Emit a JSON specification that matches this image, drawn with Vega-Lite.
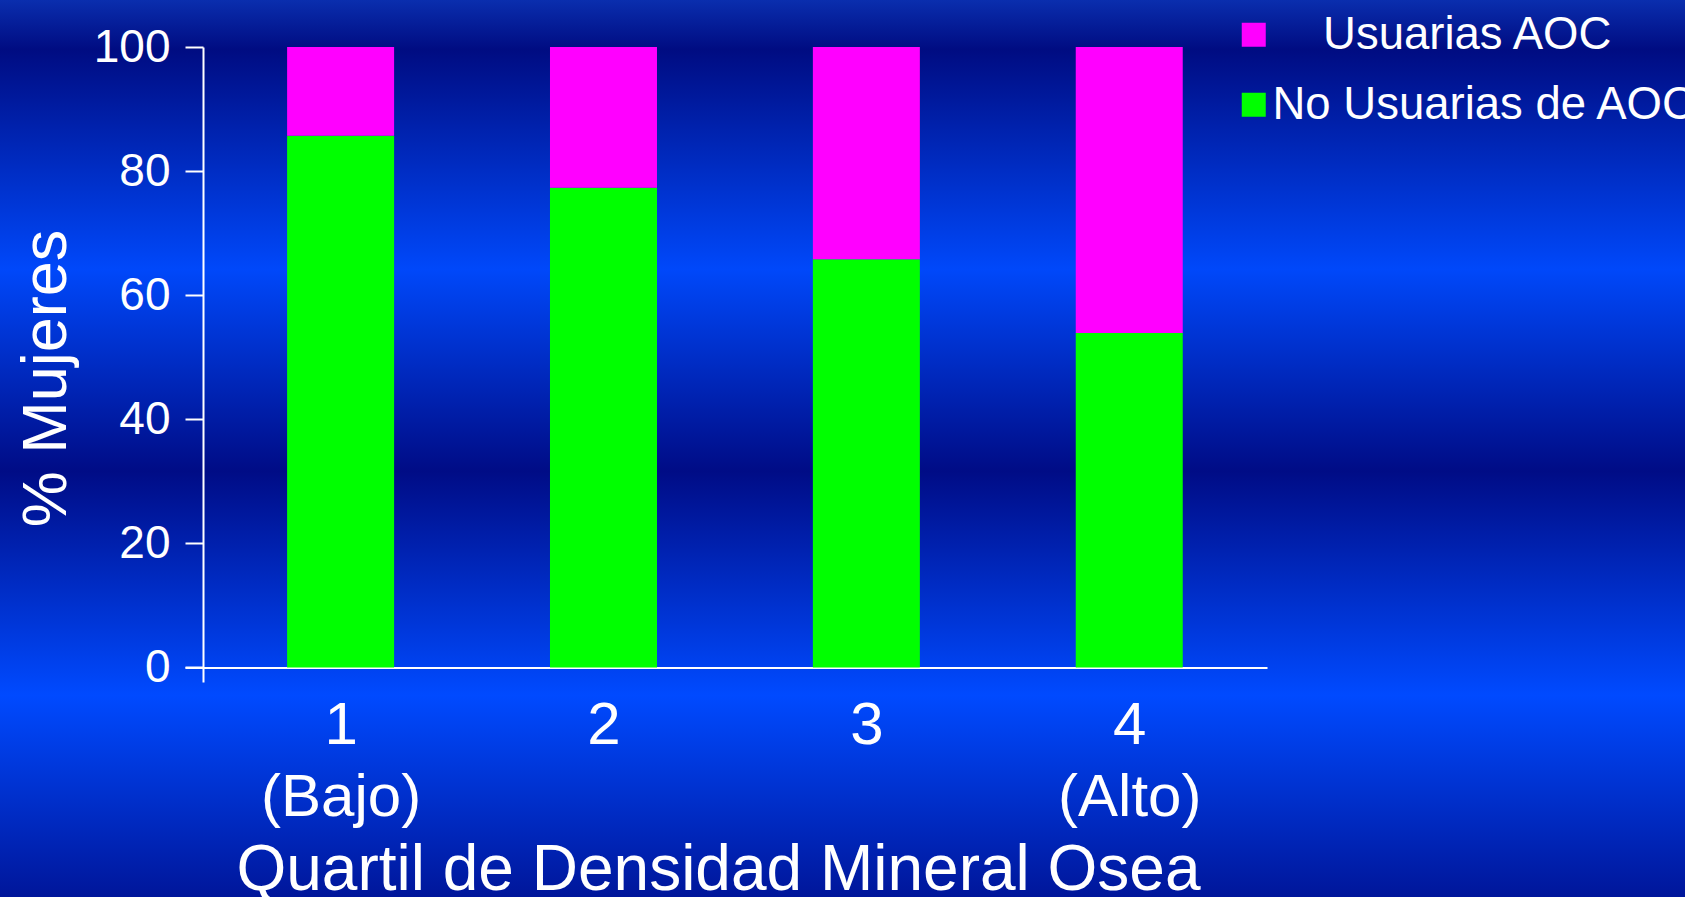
{
  "$schema": "https://vega.github.io/schema/vega-lite/v6.json",
  "width": 1685,
  "height": 897,
  "autosize": {"type": "none"},
  "padding": 0,
  "background": "#ffffff",
  "config": {
    "font": "Liberation Sans",
    "view": {
      "stroke": null,
      "fill": {
        "gradient": "linear",
        "x1": 0, "y1": 0, "x2": 0, "y2": 1,
        "stops": [
          {"offset": 0.0, "color": "#0a2eae"},
          {"offset": 0.055, "color": "#000c82"},
          {"offset": 0.30, "color": "#0048fa"},
          {"offset": 0.525, "color": "#000c86"},
          {"offset": 0.775, "color": "#004aff"},
          {"offset": 1.0, "color": "#00169a"}
        ]
      }
    }
  },
  "data": {
    "values": [
      {"cuartil": 1, "grupo": "No Usuarias de AOC", "pct": 85.7},
      {"cuartil": 1, "grupo": "Usuarias AOC", "pct": 14.3},
      {"cuartil": 2, "grupo": "No Usuarias de AOC", "pct": 77.3},
      {"cuartil": 2, "grupo": "Usuarias AOC", "pct": 22.7},
      {"cuartil": 3, "grupo": "No Usuarias de AOC", "pct": 65.8},
      {"cuartil": 3, "grupo": "Usuarias AOC", "pct": 34.2},
      {"cuartil": 4, "grupo": "No Usuarias de AOC", "pct": 53.9},
      {"cuartil": 4, "grupo": "Usuarias AOC", "pct": 46.1}
    ]
  },
  "mark": {"type": "bar", "width": 107},
  "encoding": {
    "x": {
      "field": "cuartil",
      "type": "quantitative",
      "scale": {"domain": [0.4271, 4.505], "range": [185, 1267], "nice": false, "zero": false},
      "axis": {
        "values": [1, 2, 3, 4],
        "offset": -229.5,
        "ticks": false,
        "grid": false,
        "domainColor": "#ffffff",
        "domainWidth": 2,
        "labelExpr": "datum.value == 1 ? ['1', '(Bajo)'] : datum.value == 4 ? ['4', '(Alto)'] : datum.label",
        "labelFontSize": 60,
        "labelLineHeight": 72,
        "labelBaseline": "alphabetic",
        "labelPadding": 76,
        "labelDx": -6,
        "labelColor": "#ffffff",
        "labelFlush": false,
        "labelOverlap": false,
        "labelFont": "Liberation Sans",
        "title": "Quartil de Densidad Mineral Osea",
        "titleFont": "Liberation Sans",
        "titleFontSize": 64,
        "titleFontWeight": "normal",
        "titleColor": "#ffffff",
        "titleX": 718,
        "titleY": 222,
        "titleAlign": "center",
        "titleBaseline": "alphabetic"
      }
    },
    "y": {
      "field": "pct",
      "type": "quantitative",
      "stack": "zero",
      "scale": {"domain": [-2.34, 100], "range": [682, 47], "nice": false, "zero": false},
      "axis": {
        "values": [0, 20, 40, 60, 80, 100],
        "offset": -203,
        "grid": false,
        "domainColor": "#ffffff",
        "domainWidth": 2,
        "tickColor": "#ffffff",
        "tickSize": 18,
        "tickWidth": 2,
        "labelFontSize": 46,
        "labelPadding": 15,
        "labelColor": "#ffffff",
        "labelFont": "Liberation Sans",
        "labelFlush": false,
        "labelOverlap": false,
        "title": "% Mujeres",
        "titleFont": "Liberation Sans",
        "titleFontSize": 63,
        "titleFontWeight": "normal",
        "titleColor": "#ffffff",
        "titleAngle": -90,
        "titleX": -138,
        "titleY": 378,
        "titleAlign": "center",
        "titleBaseline": "alphabetic"
      }
    },
    "color": {
      "field": "grupo",
      "type": "nominal",
      "scale": {"domain": ["Usuarias AOC", "No Usuarias de AOC"], "range": ["#ff00ff", "#00ff00"]},
      "legend": {
        "title": null,
        "orient": "none",
        "legendX": 1231,
        "legendY": 12,
        "padding": 0,
        "symbolType": "square",
        "symbolSize": 576,
        "symbolStrokeWidth": 0,
        "symbolOpacity": 1,
        "labelFontSize": 45.5,
        "labelColor": "#ffffff",
        "labelFont": "Liberation Sans",
        "labelOffset": -4,
        "labelLimit": 0,
        "rowPadding": 23,
        "labelExpr": "datum.value == 'Usuarias AOC' ? '\\u200b\\u00a0\\u00a0\\u00a0\\u00a0' + datum.label : datum.label"
      }
    },
    "order": {"field": "grupo", "sort": "ascending"}
  }
}
